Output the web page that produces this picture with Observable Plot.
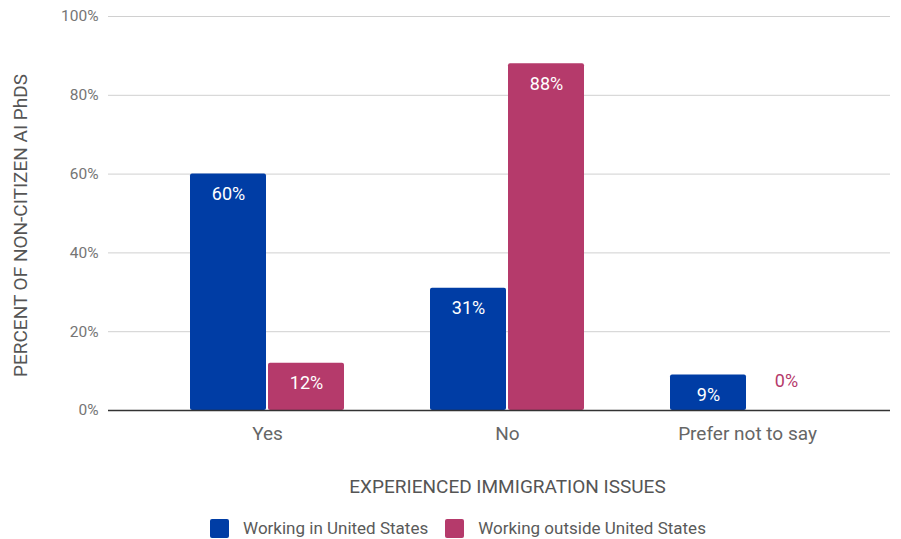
<!DOCTYPE html>
<html>
<head>
<meta charset="utf-8">
<script src="https://cdn.jsdelivr.net/npm/d3@7"></script>
<script src="https://cdn.jsdelivr.net/npm/@observablehq/plot@0.6"></script>
<style>
  html, body { margin: 0; padding: 0; background: #fff; }
  body { width: 901px; font-family: Roboto, "Noto Sans", sans-serif; }
  #legend { display: flex; justify-content: center; align-items: center; gap: 17px; height: 32px; padding-left: 15px; box-sizing: border-box; width: 901px; font-size: 17px; color: #5a5a5a; }
  .item { display: flex; align-items: center; }
  .sw { width: 19px; height: 19px; border-radius: 2px; margin-right: 14px; }
</style>
</head>
<body>
<div id="chart"></div>
<div id="legend"></div>
<script>
const categories = ["Yes", "No", "Prefer not to say"];
const seriesNames = ["Working in United States", "Working outside United States"];
const inUS = [60, 31, 9];
const outsideUS = [12, 88, 0];
const yTicks = [0, 20, 40, 60, 80, 100];
const colors = ["#003DA5", "#B53A6B"];
const yLabel = "PERCENT OF NON-CITIZEN AI PhDS";
const xLabel = "EXPERIENCED IMMIGRATION ISSUES";

const rows = categories.map((c, i) => ({category: c, inUS: inUS[i], outsideUS: outsideUS[i]}));
const pct = d => d + "%";

const labelMarks = [];
[["inUS", -39, colors[0]], ["outsideUS", 39, colors[1]]].forEach(([key, dx, col]) => {
  labelMarks.push(Plot.text(rows.filter(r => r[key] > 0), {
    x: "category", y: key, text: r => pct(r[key]), dx, dy: 20,
    fill: "white", fontSize: 18, lineAnchor: "middle"
  }));
  labelMarks.push(Plot.text(rows.filter(r => r[key] === 0), {
    x: "category", y: key, text: r => pct(r[key]), dx, dy: -29,
    fill: col, fontSize: 18, lineAnchor: "middle"
  }));
});

const chart = Plot.plot({
  width: 901,
  height: 512,
  marginLeft: 108,
  marginRight: 11,
  marginTop: 16,
  marginBottom: 102,
  style: {fontFamily: "Roboto, sans-serif", background: "white", overflow: "visible"},
  x: {domain: categories, paddingInner: 0, paddingOuter: 0.129, align: 0.629, label: null},
  y: {domain: [0, 100], label: null},
  marks: [
    Plot.ruleY(yTicks.filter(t => t > 0), {stroke: "#d0d0d0", strokeWidth: 1}),
    Plot.barY(rows, {x: "category", y: "inUS", fill: colors[0], insetLeft: 43, insetRight: 121, rx: 2}),
    Plot.barY(rows, {x: "category", y: "outsideUS", fill: colors[1], insetLeft: 121, insetRight: 43, rx: 2}),
    Plot.ruleY([0], {stroke: "#333", strokeWidth: 1.3}),
    Plot.axisY({ticks: yTicks, tickFormat: pct, tickSize: 0, tickPadding: 10, fontSize: 15.5, color: "#757575", label: null}),
    Plot.axisX({tickSize: 0, tickPadding: 16, fontSize: 19, color: "#666", label: null}),
    ...labelMarks,
    Plot.text([yLabel], {frameAnchor: "left", rotate: -90, dx: -88, dy: 12, fontSize: 19, fill: "#555", lineAnchor: "middle", textAnchor: "middle"}),
    Plot.text([xLabel], {x: () => categories[1], frameAnchor: "bottom", dy: 76, fontSize: 19, fill: "#555", lineAnchor: "middle", textAnchor: "middle"})
  ]
});
document.getElementById("chart").appendChild(chart);

const legend = document.getElementById("legend");
seriesNames.forEach((name, i) => {
  const item = document.createElement("div");
  item.className = "item";
  const sw = document.createElement("div");
  sw.className = "sw";
  sw.style.background = colors[i];
  const t = document.createElement("span");
  t.textContent = name;
  item.appendChild(sw);
  item.appendChild(t);
  legend.appendChild(item);
});
</script>
</body>
</html>
